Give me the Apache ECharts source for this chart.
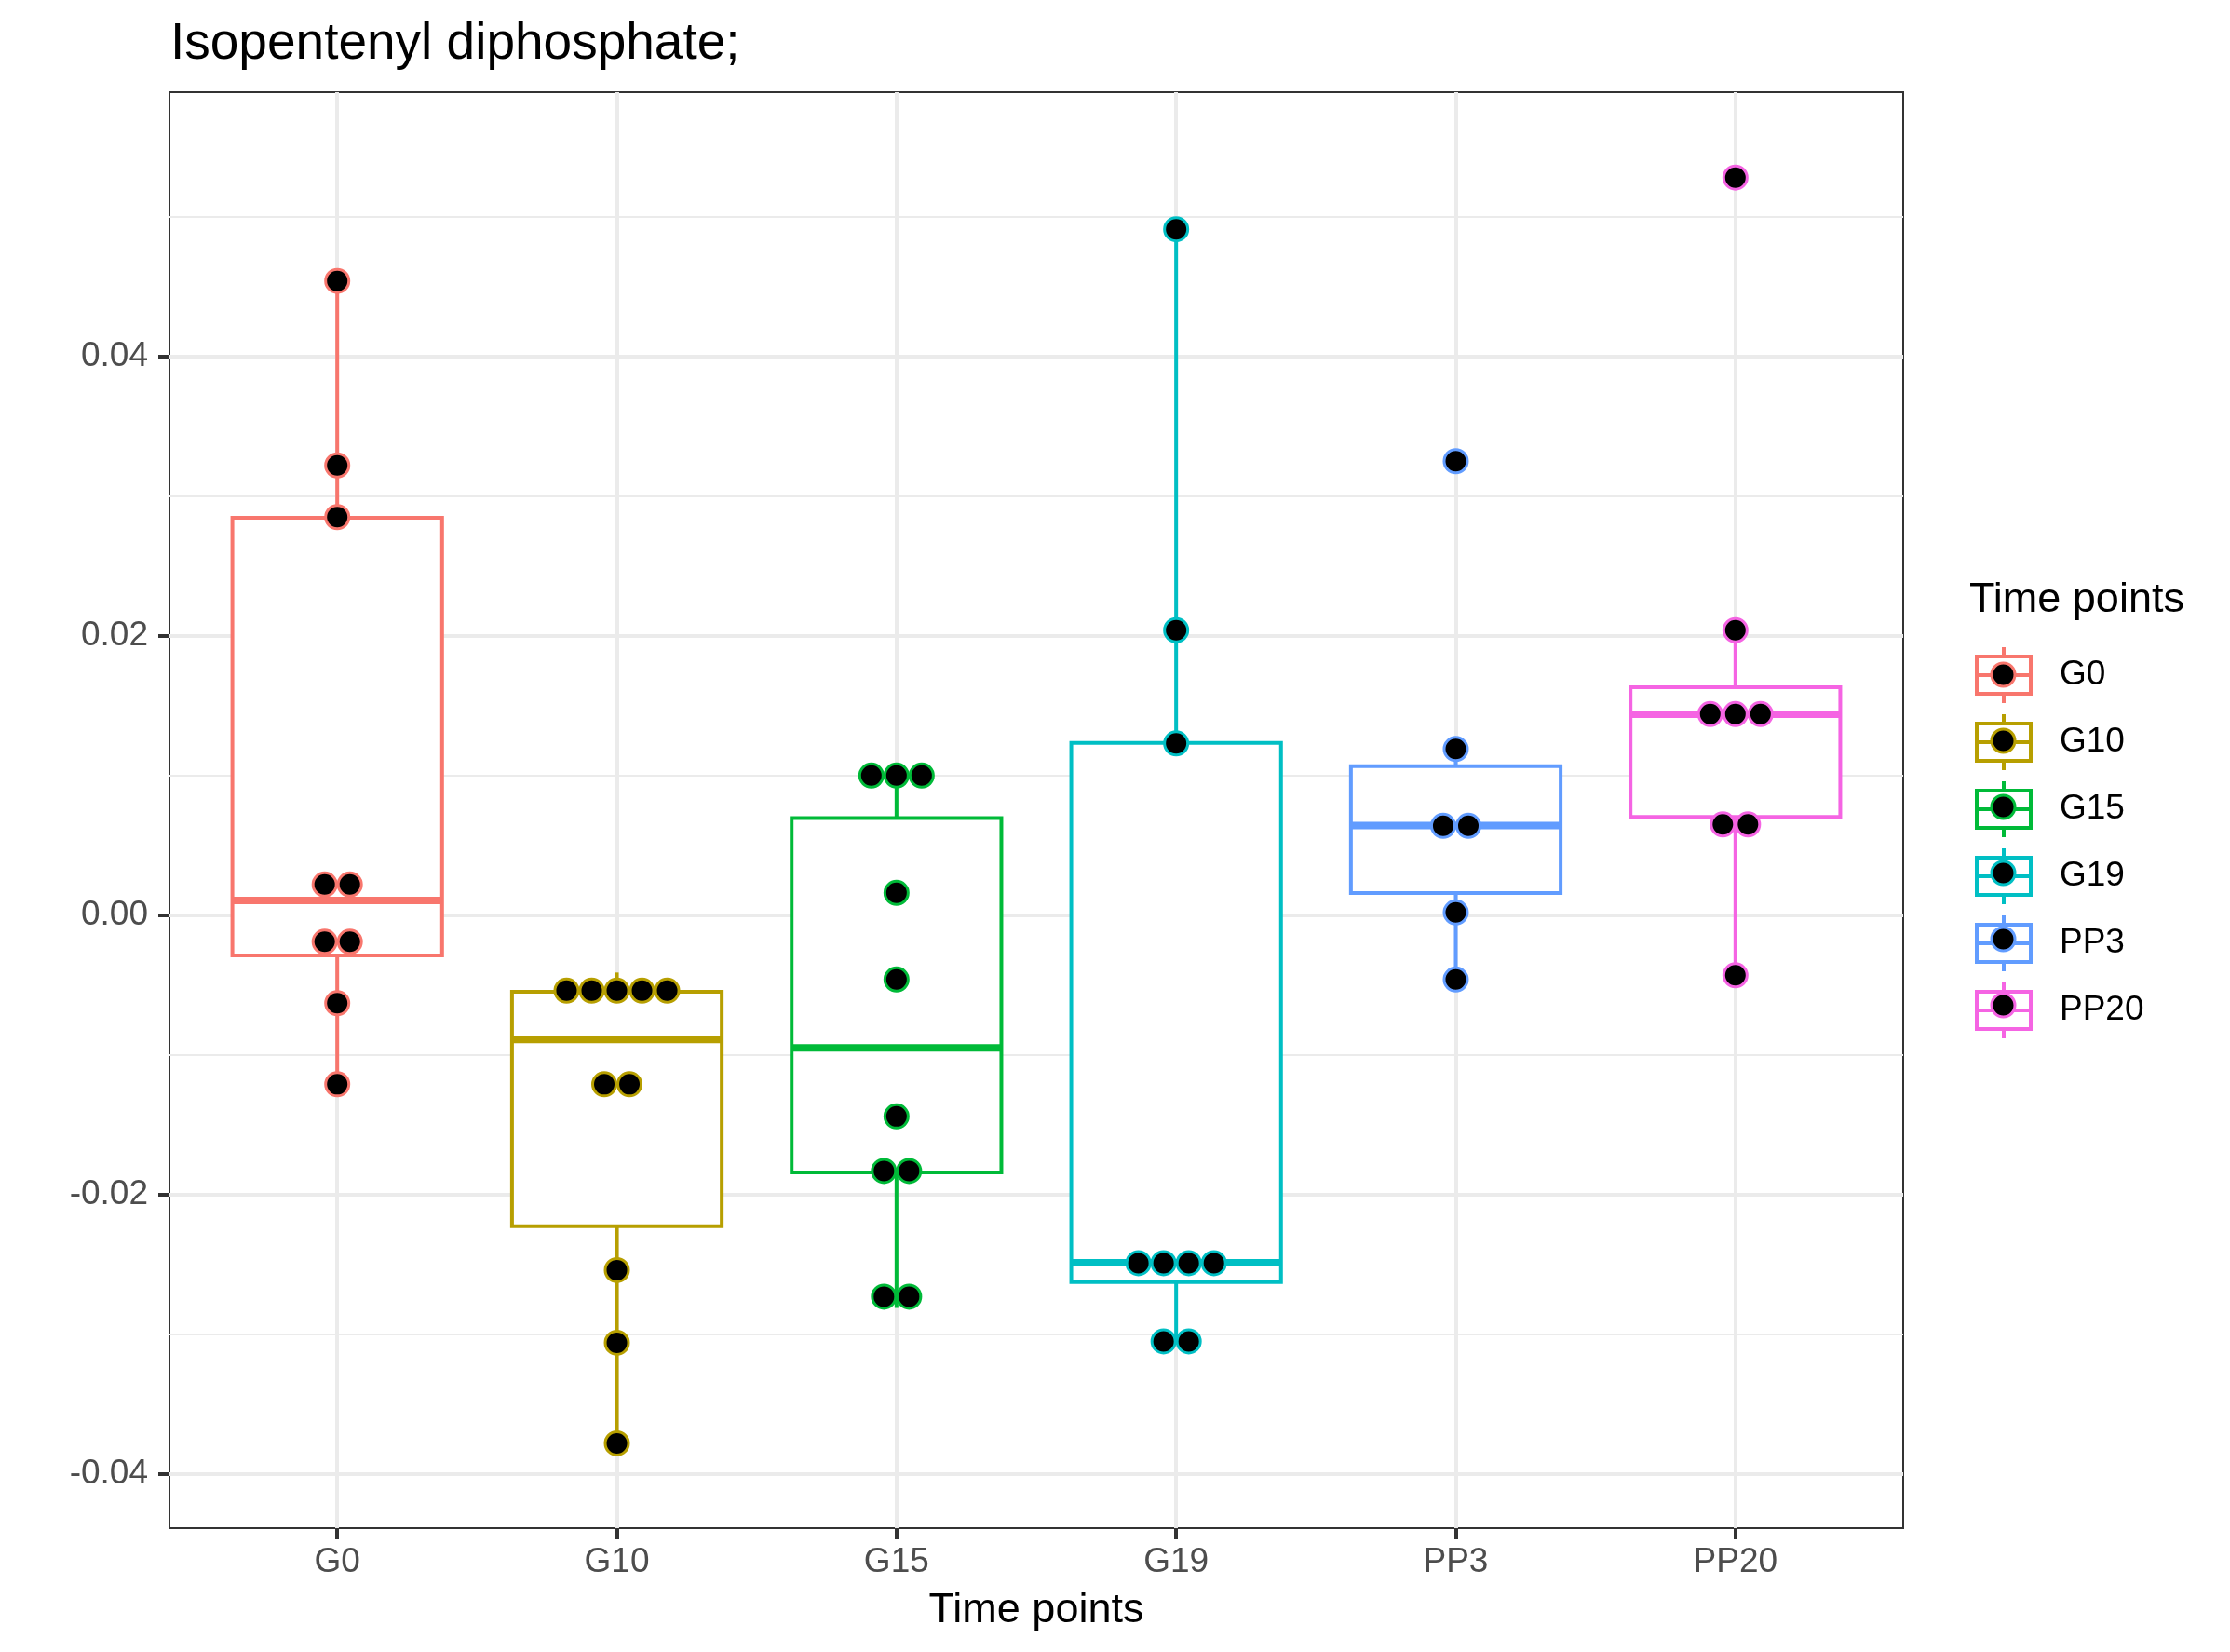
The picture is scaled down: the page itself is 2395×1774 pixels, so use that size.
<!DOCTYPE html>
<html><head><meta charset="utf-8">
<script src="https://cdn.jsdelivr.net/npm/echarts@6/dist/echarts.min.js"></script>
<style>html,body{margin:0;padding:0;background:#fff}#c{width:2395px;height:1774px}</style>
</head><body><div id="c"></div>
<script>
// ---- data ----
const categories = ['G0', 'G10', 'G15', 'G19', 'PP3', 'PP20'];
const colors = ['#F8766D', '#B79F00', '#00BA38', '#00BFC4', '#619CFF', '#F564E3'];
// box statistics: lower whisker end, Q1, median, Q3, upper whisker end
const whiskerLow  = [-0.0121, -0.0378, -0.0281, -0.0305, -0.0046, -0.0043];
const quartile1   = [-0.00287, -0.02225, -0.01841, -0.02625, 0.00158, 0.00703];
const medians     = [0.00105, -0.00889, -0.00949, -0.02487, 0.00642, 0.01438];
const quartile3   = [0.02845, -0.00547, 0.00696, 0.01233, 0.01067, 0.01632];
const whiskerHigh = [0.0454, -0.0041, 0.0108, 0.0491, 0.0119, 0.0204];
// dot-plot bins: [bin value, number of dots in the bin]
const binsG0   = [[0.0454, 1], [0.0322, 1], [0.0285, 1], [0.0022, 2], [-0.0019, 2], [-0.0063, 1], [-0.0121, 1]];
const binsG10  = [[-0.0054, 5], [-0.0121, 2], [-0.0254, 1], [-0.0306, 1], [-0.0378, 1]];
const binsG15  = [[0.0100, 3], [0.0016, 1], [-0.0046, 1], [-0.0144, 1], [-0.0183, 2], [-0.0273, 2]];
const binsG19  = [[0.0491, 1], [0.0204, 1], [0.0123, 1], [-0.0249, 4], [-0.0305, 2]];
const binsPP3  = [[0.0325, 1], [0.0119, 1], [0.0064, 2], [0.0002, 1], [-0.0046, 1]];
const binsPP20 = [[0.0528, 1], [0.0204, 1], [0.0144, 3], [0.0065, 2], [-0.0043, 1]];
const dotBins = [binsG0, binsG10, binsG15, binsG19, binsPP3, binsPP20];
// axis ticks
const xTickValues = [0, 1, 2, 3, 4, 5];
const yTickValues = [-0.04, -0.02, 0, 0.02, 0.04];
const yTickLabels = ['-0.04', '-0.02', '0.00', '0.02', '0.04'];
const yMinorValues = [-0.03, -0.01, 0.01, 0.03, 0.05];
const yMin = -0.04387, yMax = 0.05891;
const xMin = -0.6, xMax = 5.6;

// ---- styling ----
const FONT = 'Liberation Sans';
const BOX_HALF = 0.375;
const DOT_STEP = 0.09;

const boxSeries = categories.map((name, i) => ({
  type: 'custom', name, xAxisIndex: 0, yAxisIndex: 0, z: 3,
  data: [[i, whiskerLow[i], quartile1[i], medians[i], quartile3[i], whiskerHigh[i]]],
  encode: { x: 0, y: [1, 2, 3, 4, 5] },
  renderItem(params, api) {
    const x = api.value(0);
    const pLo = api.coord([x, api.value(1)]);
    const pQ1 = api.coord([x, api.value(2)]);
    const pMed = api.coord([x, api.value(3)]);
    const pQ3 = api.coord([x, api.value(4)]);
    const pHi = api.coord([x, api.value(5)]);
    const xl = api.coord([x - BOX_HALF, 0])[0];
    const xr = api.coord([x + BOX_HALF, 0])[0];
    const c = colors[i];
    const ls = { stroke: c, lineWidth: 4, fill: null };
    return { type: 'group', children: [
      { type: 'line', shape: { x1: pHi[0], y1: pHi[1], x2: pQ3[0], y2: pQ3[1] }, style: ls },
      { type: 'line', shape: { x1: pQ1[0], y1: pQ1[1], x2: pLo[0], y2: pLo[1] }, style: ls },
      { type: 'rect', shape: { x: xl, y: pQ3[1], width: xr - xl, height: pQ1[1] - pQ3[1] },
        style: { stroke: c, lineWidth: 4, fill: '#fff' } },
      { type: 'line', shape: { x1: xl, y1: pMed[1], x2: xr, y2: pMed[1] }, style: { stroke: c, lineWidth: 8 } }
    ] };
  }
}));

const dotSeries = categories.map((name, i) => ({
  type: 'scatter', name, xAxisIndex: 0, yAxisIndex: 0, z: 5,
  symbol: 'circle', symbolSize: 25,
  itemStyle: { color: '#000', borderColor: colors[i], borderWidth: 3, opacity: 1 },
  emphasis: { disabled: true },
  data: dotBins[i].flatMap(([v, n]) => Array.from({ length: n }, (_, k) => [i + (k - (n - 1) / 2) * DOT_STEP, v]))
}));

const chart = echarts.init(document.getElementById('c'), null, { renderer: 'canvas' });
chart.setOption({
  animation: false,
  backgroundColor: '#fff',
  title: [
    { text: 'Isopentenyl diphosphate;', left: 183, top: 20, padding: 0,
      textStyle: { fontSize: 55, fontWeight: 'normal', color: '#000', fontFamily: FONT } },
    { text: 'Time points', left: 2115, top: 622, padding: 0,
      textStyle: { fontSize: 45, fontWeight: 'normal', color: '#000', fontFamily: FONT } }
  ],
  legend: [
    { orient: 'vertical', left: 2121, top: 693, padding: 0, itemGap: 8, itemWidth: 84, itemHeight: 60,
      selectedMode: false,
      icon: 'path://M0,0 M84,60 M0,10 L58,10 L58,50 L0,50 Z M29,0 L29,10 M29,50 L29,60 M0,30 L58,30',
      data: categories.map((n, i) => ({ name: n, itemStyle: { color: '#fff', borderColor: colors[i], borderWidth: 4 } })),
      textStyle: { fontSize: 37, color: '#000', fontFamily: FONT } },
    { orient: 'vertical', left: 2121, top: 693, padding: 0, itemGap: 8, itemWidth: 84, itemHeight: 60,
      selectedMode: false,
      icon: 'path://M0,0 M84,60 M16.5,30 A12.5,12.5 0 1,1 41.5,30 A12.5,12.5 0 1,1 16.5,30 Z',
      data: categories.map((n, i) => ({ name: n, itemStyle: { color: '#000', borderColor: colors[i], borderWidth: 3 } })),
      textStyle: { fontSize: 37, color: 'rgba(0,0,0,0)', fontFamily: FONT } }
  ],
  grid: { left: 182, top: 99, width: 1862, height: 1542, show: true, borderColor: '#333333', borderWidth: 2,
    backgroundColor: 'transparent', containLabel: false, outerBoundsMode: 'none' },
  xAxis: {
    type: 'value', min: xMin, max: xMax,
    axisLine: { show: false, onZero: false },
    axisTick: { show: true, customValues: xTickValues, length: 12, lineStyle: { color: '#333333', width: 4 } },
    axisLabel: { customValues: xTickValues, formatter: v => categories[Math.round(v)], fontSize: 37, color: '#4D4D4D',
      margin: 18, fontFamily: FONT },
    splitLine: { show: true, lineStyle: { color: '#EBEBEB', width: 4 } },
    name: 'Time points', nameLocation: 'middle', nameGap: 66,
    nameTextStyle: { fontSize: 45, color: '#000', fontFamily: FONT }
  },
  yAxis: [
    { type: 'value', min: yMin, max: yMax,
      axisLine: { show: false, onZero: false },
      axisTick: { show: true, customValues: yTickValues, length: 12, lineStyle: { color: '#333333', width: 4 } },
      axisLabel: { customValues: yTickValues,
        formatter: v => yTickLabels[yTickValues.findIndex(t => Math.abs(t - v) < 1e-9)],
        fontSize: 37, color: '#4D4D4D', margin: 23, fontFamily: FONT },
      splitLine: { show: true, lineStyle: { color: '#EBEBEB', width: 4 } } },
    { type: 'value', min: yMin, max: yMax, position: 'left',
      axisLine: { show: false, onZero: false },
      axisTick: { show: false, customValues: yMinorValues },
      axisLabel: { show: false },
      splitLine: { show: true, lineStyle: { color: '#EBEBEB', width: 2 } } }
  ],
  series: [...boxSeries, ...dotSeries]
});
</script></body></html>
